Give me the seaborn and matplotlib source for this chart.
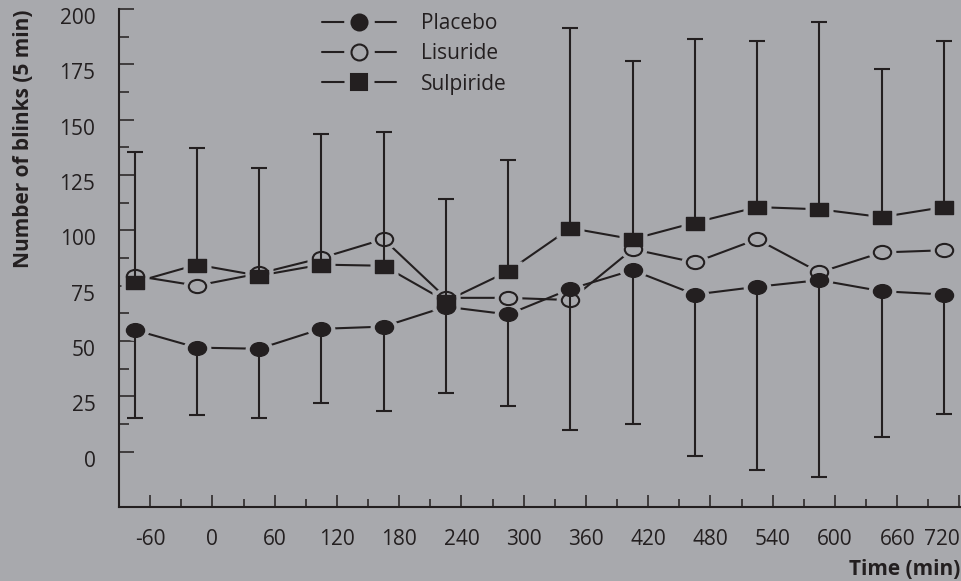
import numpy as np
import pandas as pd
import matplotlib
matplotlib.use('Agg')
import matplotlib.pyplot as plt
import seaborn as sns
from matplotlib.lines import Line2D
from matplotlib.path import Path
from matplotlib.transforms import Affine2D, ScaledTranslation
from matplotlib.ticker import MultipleLocator, FixedLocator

# values
time = [-75, -15, 45, 105, 165, 225, 285, 345, 405, 465, 525, 585, 645, 705]
placebo = [55, 47, 46.5, 55.5, 56.5, 65.5, 62, 73.5, 82, 71, 74.5, 77.5, 72.5, 71]
lisuride = [79.5, 75, 80.5, 87.5, 96, 69.5, 69.5, 68.5, 91.5, 85.5, 96, 81, 90, 91]
sulpiride = [76.5, 84.5, 79.5, 84.5, 84, 68, 81.5, 101, 96, 103.5, 110.5, 109.5, 106, 110.5]
# error bar ends (upper on sulpiride, lower on placebo)
sulpiride_top = [135.5, 137, 128, 143.5, 144.5, 114, 132, 191.5, 176.5, 186.5, 185.5, 194, 173, 185.5]
placebo_bottom = [15, 16.5, 15, 22, 18.5, 26.5, 20.5, 10, 12.5, -2, -8.5, -11.5, 6.5, 17]

x_ticks = [-60, 0, 60, 120, 180, 240, 300, 360, 420, 480, 540, 600, 660, 720]
y_ticks = [0, 25, 50, 75, 100, 125, 150, 175, 200]

bg = '#a8a9ad'
ink = '#231f20'

sns.set_style('ticks')
plt.rcParams['font.family'] = ['Open Sans', 'DejaVu Sans']

df = pd.DataFrame({'time': time, 'Placebo': placebo, 'Lisuride': lisuride, 'Sulpiride': sulpiride})

# squashed markers like in the original
ellipse = Path.unit_circle().transformed(Affine2D().scale(1, 0.76))
box = Path.unit_rectangle().transformed(Affine2D().translate(-0.5, -0.5).scale(1, 0.72))

fig = plt.figure(figsize=(9.61, 5.81), dpi=100, facecolor=bg)
ax = fig.add_axes([119 / 961, 74 / 581, 841 / 961, 498 / 581])
ax.set_facecolor(bg)

for col in ['Placebo', 'Lisuride', 'Sulpiride']:
    sns.lineplot(data=df, x='time', y=col, ax=ax, color=ink, lw=1.5,
                 estimator=None, errorbar=None, zorder=1)

# halos to cut the lines near the markers
for col, mk in [('Placebo', ellipse), ('Lisuride', ellipse), ('Sulpiride', box)]:
    sns.lineplot(data=df, x='time', y=col, ax=ax, linestyle='none', marker=mk,
                 markersize=20, mfc=bg, mec='none', estimator=None, errorbar=None, zorder=2)

sul = np.array(sulpiride)
pla = np.array(placebo)
ax.errorbar(time, sulpiride, yerr=[np.zeros(len(time)), np.array(sulpiride_top) - sul],
            fmt='none', ecolor=ink, elinewidth=1.5, capsize=6, capthick=1.5, zorder=3)
ax.errorbar(time, placebo, yerr=[pla - np.array(placebo_bottom), np.zeros(len(time))],
            fmt='none', ecolor=ink, elinewidth=1.5, capsize=6, capthick=1.5, zorder=3)

sns.lineplot(data=df, x='time', y='Placebo', ax=ax, linestyle='none', marker=ellipse,
             markersize=13, mfc=ink, mec=ink, mew=1, estimator=None, errorbar=None, zorder=4)
sns.lineplot(data=df, x='time', y='Lisuride', ax=ax, linestyle='none', marker=ellipse,
             markersize=12.5, mfc='none', mec=ink, mew=1.5, estimator=None, errorbar=None, zorder=4)
sns.lineplot(data=df, x='time', y='Sulpiride', ax=ax, linestyle='none', marker=box,
             markersize=13, mfc=ink, mec=ink, mew=1, estimator=None, errorbar=None, zorder=4)

ax.set_xlim(-90, 720.5)
ax.set_ylim(-25, 200)
ax.set_xticks(x_ticks)
ax.set_xticklabels([str(t) for t in x_ticks])
ax.set_yticks(y_ticks)
ax.set_yticklabels([str(t) for t in y_ticks])
ax.xaxis.set_minor_locator(MultipleLocator(30))
ax.yaxis.set_minor_locator(FixedLocator(np.arange(12.5, 200, 25)))

sns.despine(ax=ax)
for s in ['left', 'bottom']:
    ax.spines[s].set_linewidth(1.5)
    ax.spines[s].set_color(ink)

ax.tick_params(axis='x', which='major', direction='in', length=8.5, width=1.1, color=ink,
               pad=16, labelsize=15, labelcolor=ink)
ax.tick_params(axis='x', which='minor', direction='in', length=5.5, width=1.1, color=ink)
ax.tick_params(axis='y', which='major', direction='in', length=10.5, width=1.1, color=ink,
               pad=17, labelsize=15, labelcolor=ink)
ax.tick_params(axis='y', which='minor', direction='in', length=7.5, width=1.1, color=ink)

shift = ScaledTranslation(0, -5 / 72, fig.dpi_scale_trans)
for lab in ax.get_yticklabels():
    lab.set_transform(lab.get_transform() + shift)
# last x label sits left of its tick at the right edge
ax.get_xticklabels()[-1].set_horizontalalignment('right')

ax.set_xlabel('Time (min)', loc='right', fontsize=15, fontweight='bold', color=ink, labelpad=6)
ax.set_ylabel('Number of blinks (5 min)', loc='top', fontsize=15, fontweight='bold', color=ink, labelpad=18)

handles = []
for mk, fc in [('o', ink), ('o', 'none'), ('s', ink)]:
    ln = Line2D([], [], color=ink, lw=1.5)
    halo = Line2D([], [], linestyle='none', marker=mk, markersize=22, mfc=bg, mec='none')
    m = Line2D([], [], linestyle='none', marker=mk, markersize=11.5, mfc=fc, mec=ink, mew=1.5)
    handles.append((ln, halo, m))
ax.legend(handles=handles, labels=['Placebo', 'Lisuride', 'Sulpiride'], loc='upper left',
          bbox_to_anchor=(322 / 961, 1 - 13 / 581), bbox_transform=fig.transFigure,
          frameon=False, fontsize=15, handlelength=3.55, handletextpad=1.2,
          labelspacing=0.45, borderpad=0, borderaxespad=0, labelcolor=ink)

fig.savefig('out.png', dpi=100, facecolor=bg)
